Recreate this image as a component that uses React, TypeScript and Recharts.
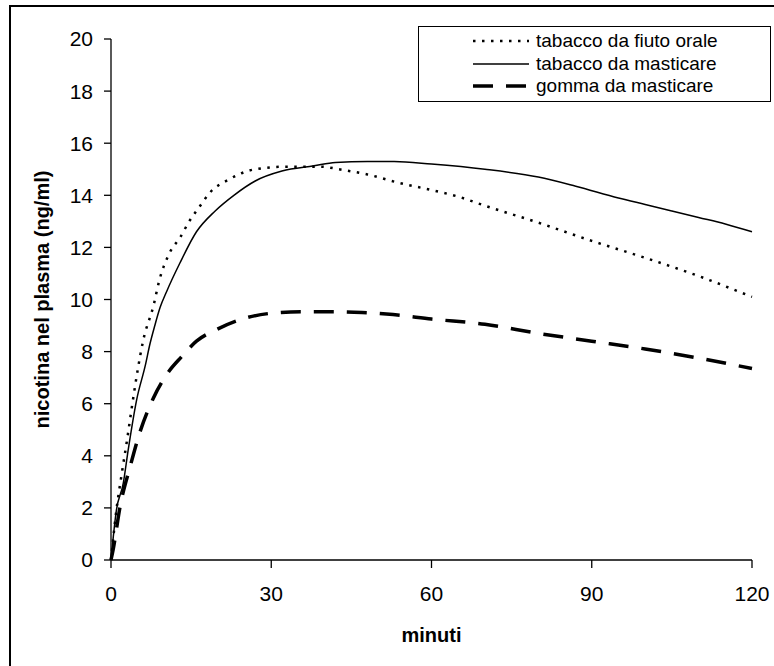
import { LineChart, Line, XAxis, YAxis, Legend, Label } from 'recharts';

// minutes / plasma nicotine (ng/ml)
const snuffMin = [0, 1, 2, 3, 4, 5, 6, 8, 9, 11, 13, 14.5, 16.7, 18.5, 22, 27, 33, 39, 43.5, 48, 53.5, 60, 65, 70, 80, 90, 100, 110, 120];
const snuffNg = [0, 1.9, 3.3, 4.6, 6.0, 7.3, 8.4, 9.8, 10.7, 11.8, 12.4, 12.95, 13.6, 14.1, 14.6, 15.0, 15.1, 15.1, 14.97, 14.8, 14.5, 14.2, 13.95, 13.6, 12.95, 12.25, 11.6, 10.9, 10.1];

const chewMin = [0, 1, 2.3, 3.2, 4.8, 6.4, 7.3, 8.2, 9.2, 10.4, 12.9, 16, 19.5, 23, 27, 32, 38, 42, 48, 53, 60, 70, 80, 87, 95, 100, 105, 110, 115, 120];
const chewNg = [0, 1.9, 2.95, 4.2, 6.15, 7.45, 8.3, 9.0, 9.7, 10.3, 11.4, 12.6, 13.4, 14.0, 14.55, 14.93, 15.13, 15.26, 15.3, 15.3, 15.2, 15.0, 14.7, 14.35, 13.9, 13.65, 13.4, 13.15, 12.9, 12.6];

const gumMin = [0, 0.4, 1.7, 3.6, 5.4, 7.9, 10.7, 13.2, 16, 19.8, 25.4, 31.6, 36, 41.6, 47, 52.8, 60, 70, 80, 90, 100, 110, 120];
const gumNg = [0, 0.4, 2.05, 3.6, 4.9, 6.2, 7.2, 7.8, 8.4, 8.85, 9.3, 9.5, 9.53, 9.53, 9.5, 9.42, 9.25, 9.05, 8.7, 8.4, 8.1, 7.75, 7.35];

const xTicks = [0, 30, 60, 90, 120];
const yTicks = [0, 2, 4, 6, 8, 10, 12, 14, 16, 18, 20];

const FONT = '"Liberation Sans", Arial, sans-serif';

const toPoints = (mins: number[], vals: number[]) =>
  mins.map((m, i) => ({ min: m, ng: vals[i] }));

const SERIES = [
  { name: 'tabacco da fiuto orale', data: toPoints(snuffMin, snuffNg), width: 2.5, dash: '2.5 6.5' },
  { name: 'tabacco da masticare', data: toPoints(chewMin, chewNg), width: 1.5, dash: undefined },
  { name: 'gomma da masticare', data: toPoints(gumMin, gumNg), width: 3.5, dash: '20 13' },
];

function LegendBox() {
  return (
    <div
      style={{
        width: 353,
        height: 76,
        boxSizing: 'border-box',
        border: '1.5px solid #000',
        background: '#fff',
        paddingTop: 3,
        fontFamily: FONT,
        fontSize: 19,
        color: '#000',
      }}
    >
      {SERIES.map((s) => (
        <div key={s.name} style={{ display: 'flex', alignItems: 'center', height: 22.5 }}>
          <svg width={57} height={10} style={{ marginLeft: 54 }}>
            <line x1={0} y1={5} x2={56} y2={5} stroke="#000" strokeWidth={s.width} strokeDasharray={s.dash} />
          </svg>
          <span style={{ marginLeft: 6, whiteSpace: 'nowrap' }}>{s.name}</span>
        </div>
      ))}
    </div>
  );
}

export default function App() {
  return (
    <div
      style={{
        position: 'absolute',
        left: 0,
        top: 0,
        width: 774,
        height: 666,
        overflow: 'hidden',
        background: '#fff',
      }}
    >
      <div
        style={{
          position: 'absolute',
          left: 9,
          top: 5,
          width: 900,
          height: 800,
          borderLeft: '2px solid #000',
          borderTop: '2px solid #000',
        }}
      />
      <div style={{ position: 'absolute', left: 0, top: 0 }}>
        <LineChart width={774} height={666} margin={{ top: 39, right: 22, bottom: 46, left: 31 }}>
          <XAxis
            dataKey="min"
            type="number"
            domain={[0, 120]}
            ticks={xTicks}
            height={60}
            tickSize={8}
            tickMargin={18}
            stroke="#000"
            strokeWidth={1.3}
            tick={{ fill: '#000', fontSize: 21, fontFamily: FONT }}
            allowDuplicatedCategory={false}
          >
            <Label
              value="minuti"
              position="center"
              dy={45}
              style={{ fill: '#000', fontSize: 20, fontWeight: 'bold', fontFamily: FONT }}
            />
          </XAxis>
          <YAxis
            dataKey="ng"
            type="number"
            domain={[0, 20]}
            ticks={yTicks}
            width={80}
            tickSize={7}
            tickMargin={11}
            stroke="#000"
            strokeWidth={1.3}
            tick={{ fill: '#000', fontSize: 21, fontFamily: FONT }}
          >
            <Label
              value="nicotina nel plasma (ng/ml)"
              position="center"
              angle={-90}
              dx={-29}
              style={{ fill: '#000', fontSize: 20, fontWeight: 'bold', fontFamily: FONT }}
            />
          </YAxis>
          <Legend
            layout="vertical"
            align="center"
            verticalAlign="middle"
            content={<LegendBox />}
            wrapperStyle={{ left: 418, top: 26, width: 353, height: 76 }}
          />
          {SERIES.map((s) => (
            <Line
              key={s.name}
              name={s.name}
              data={s.data}
              dataKey="ng"
              type="monotone"
              stroke="#000"
              strokeWidth={s.width}
              strokeDasharray={s.dash}
              dot={false}
              activeDot={false}
              isAnimationActive={false}
            />
          ))}
        </LineChart>
      </div>
    </div>
  );
}
